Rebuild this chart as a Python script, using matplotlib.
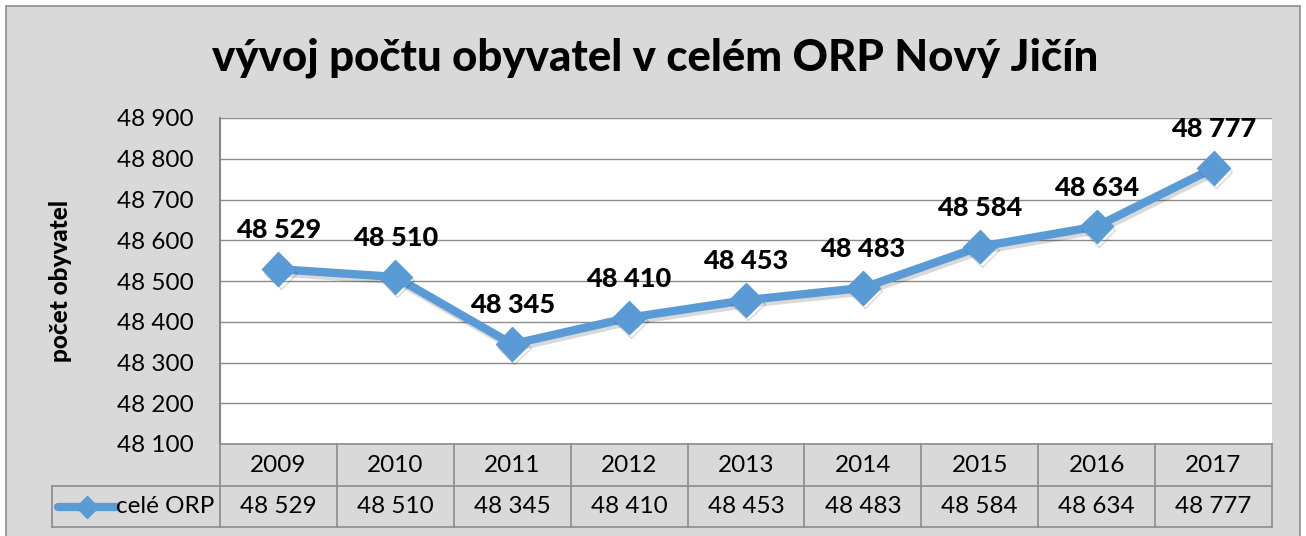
import matplotlib
matplotlib.use("Agg")
import matplotlib.pyplot as plt
import matplotlib.patheffects as pe
from matplotlib.patches import Rectangle
from matplotlib.lines import Line2D
import matplotlib.transforms as mtransforms

plt.rcParams['font.family'] = ['Lato', 'DejaVu Sans']

roky = ['2009', '2010', '2011', '2012', '2013', '2014', '2015', '2016', '2017']
obyvatel = [48529, 48510, 48345, 48410, 48453, 48483, 48584, 48634, 48777]
yticks = [48100, 48200, 48300, 48400, 48500, 48600, 48700, 48800, 48900]
nazev_rady = 'celé ORP'


def fmt(v):
    return f"{v:,}".replace(",", " ")


W, H = 1306, 536
fig = plt.figure(figsize=(W / 100, H / 100), dpi=100)
fig.patch.set_facecolor('white')

# grey chart area with frame
bg = Rectangle((6 / W, -0.02), (1300 - 6) / W, 1.02 - 6 / H,
               transform=fig.transFigure, facecolor='#d9d9d9',
               edgecolor='#8c8c8c', linewidth=1.2, zorder=-5)
fig.patches.append(bg)

L, R, T, B = 220, 1272, 118, 444
ax = fig.add_axes([L / W, 1 - B / H, (R - L) / W, (B - T) / H])
ax.set_facecolor('white')

x = list(range(len(roky)))
modra = '#5b9bd5'
line, = ax.plot(x, obyvatel, color=modra, lw=6, marker='D', ms=17,
                solid_joinstyle='round', zorder=3)
line.set_path_effects([pe.SimpleLineShadow(offset=(1.5, -2.5), alpha=0.15, shadow_color='black'),
                       pe.Normal()])

for xi, v in zip(x, obyvatel):
    ax.annotate(fmt(v), (xi, v), xytext=(0, 28), textcoords='offset points',
                ha='center', va='center', fontsize=19.5, fontweight='black')

ax.set_xlim(-0.5, len(roky) - 0.5)
ax.set_ylim(48100, 48900)
ax.set_yticks(yticks)
ax.set_yticklabels([fmt(t) for t in yticks], fontsize=17.5)
ax.set_xticks([])
ax.tick_params(axis='y', length=0, pad=19)
ax.grid(axis='y', color='#8c8c8c', lw=1)
ax.set_axisbelow(True)
for s in ['top', 'right', 'bottom']:
    ax.spines[s].set_visible(False)
ax.spines['left'].set_color('#868686')
ax.spines['left'].set_linewidth(1.5)

ax.set_ylabel('počet obyvatel', fontsize=17.5, fontweight='black')
ax.yaxis.set_label_coords(-0.1407, 0.5)

fig.text(655 / W, 1 - 58 / H, 'vývoj počtu obyvatel v celém ORP Nový Jičín',
         ha='center', va='center', fontsize=31.5, fontweight='black')

# data table under the plot
tr = mtransforms.blended_transform_factory(ax.transData, fig.transFigure)
ty = lambda py: 1 - py / H
r1, r2, r3 = 444, 486, 527
tab_col = '#8c8c8c'
n = len(roky)
for i in range(n + 1):
    xe = i - 0.5
    fig.add_artist(Line2D([xe, xe], [ty(r1), ty(r3)], transform=tr, color=tab_col, lw=1.2))
fig.add_artist(Line2D([-0.5, n - 0.5], [ty(r1), ty(r1)], transform=tr, color=tab_col, lw=1.2))
fig.add_artist(Line2D([52 / W, R / W], [ty(r2), ty(r2)], transform=fig.transFigure, color=tab_col, lw=1.2))
fig.add_artist(Line2D([52 / W, R / W], [ty(r3), ty(r3)], transform=fig.transFigure, color=tab_col, lw=1.2))
fig.add_artist(Line2D([52 / W, 52 / W], [ty(r2), ty(r3)], transform=fig.transFigure, color=tab_col, lw=1.2))

for xi, rok, v in zip(x, roky, obyvatel):
    fig.text(xi, ty((r1 + r2) / 2), rok, transform=tr, ha='center', va='center', fontsize=17.5)
    fig.text(xi, ty((r2 + r3) / 2), fmt(v), transform=tr, ha='center', va='center', fontsize=17.5)

# legend key in the table
ym = ty((r2 + r3) / 2)
fig.add_artist(Line2D([58 / W, 116 / W], [ym, ym], transform=fig.transFigure,
                      color=modra, lw=6, solid_capstyle='round'))
fig.add_artist(Line2D([87 / W], [ym], transform=fig.transFigure, color=modra,
                      marker='D', ms=11, lw=0))
fig.text(214 / W, ym, nazev_rady, ha='right', va='center', fontsize=17.5)

fig.savefig('out.png', dpi=100)
